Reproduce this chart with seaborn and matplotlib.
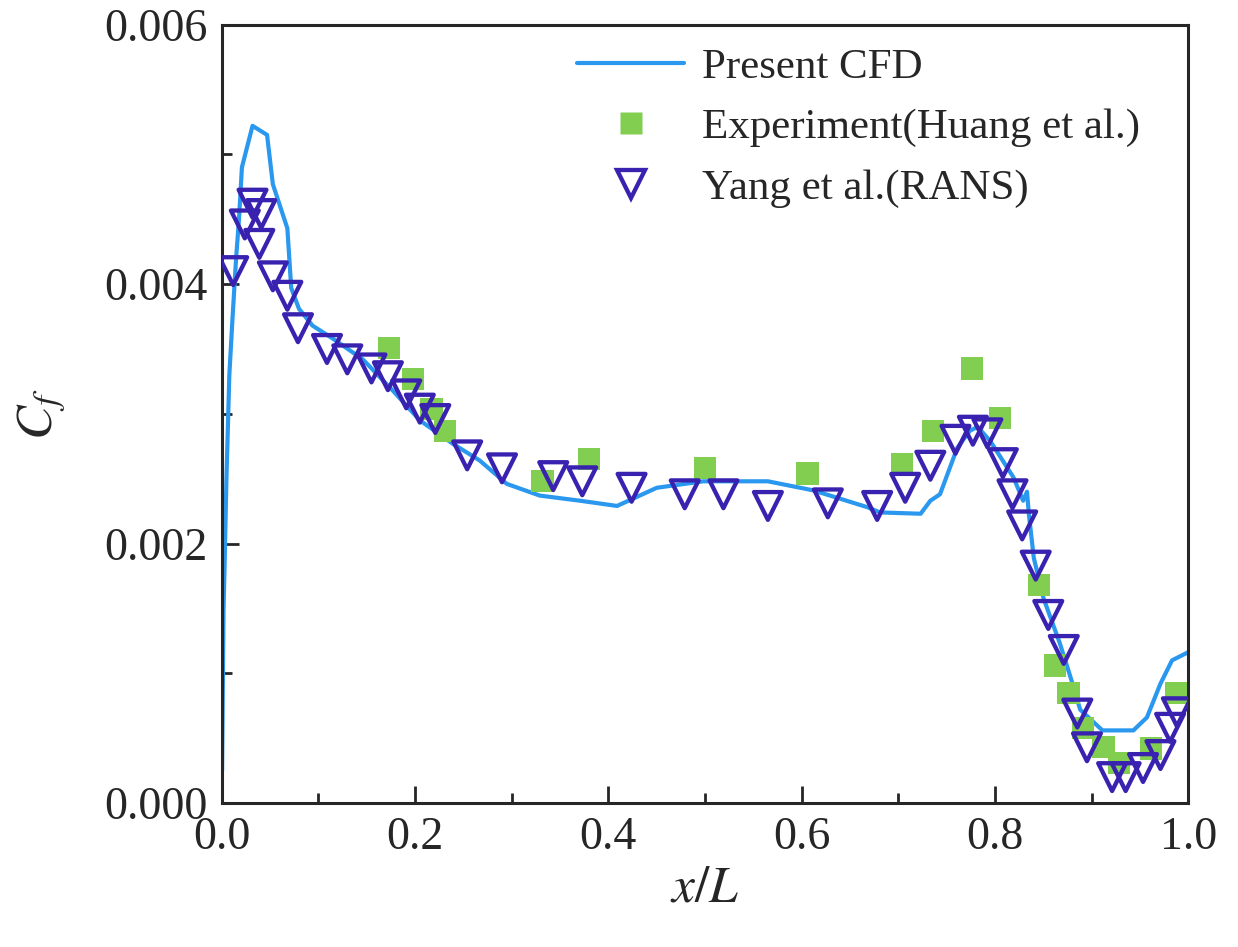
import numpy as np
import pandas as pd
import matplotlib
matplotlib.use("Agg")
import matplotlib.pyplot as plt
import seaborn as sns
from matplotlib.ticker import MultipleLocator, FormatStrFormatter
from matplotlib.lines import Line2D

# ---- data ----
cfd_x = [0.0005, 0.002, 0.003, 0.005, 0.008, 0.011, 0.015, 0.018, 0.021, 0.032, 0.047,
         0.053, 0.068, 0.072, 0.080, 0.094, 0.115, 0.146, 0.177, 0.205, 0.239, 0.267,
         0.295, 0.329, 0.371, 0.409, 0.450, 0.498, 0.565, 0.612, 0.668, 0.681, 0.723,
         0.733, 0.743, 0.761, 0.774, 0.782, 0.795, 0.819, 0.829, 0.833, 0.835, 0.840,
         0.850, 0.867, 0.878, 0.888, 0.911, 0.943, 0.957, 0.971, 0.983, 0.999]
cfd_y = [0.00025, 0.0015, 0.0018, 0.0025, 0.0033, 0.0037, 0.0042, 0.0045, 0.0049, 0.00522, 0.00515,
         0.00477, 0.00443, 0.00397, 0.00381, 0.00368, 0.00358, 0.00342, 0.00318, 0.00295, 0.00277, 0.00264,
         0.00246, 0.00237, 0.00233, 0.00229, 0.00243, 0.00248, 0.00248, 0.00241, 0.00228, 0.00224, 0.00223,
         0.00233, 0.00238, 0.00274, 0.00287, 0.00290, 0.00279, 0.00251, 0.00233, 0.00240, 0.00222, 0.00189,
         0.00158, 0.00123, 0.00097, 0.00072, 0.00056, 0.00056, 0.00066, 0.00092, 0.00110, 0.00116]

exp_x = [0.173, 0.198, 0.217, 0.231, 0.332, 0.380, 0.500, 0.606, 0.704, 0.736, 0.776,
         0.805, 0.845, 0.862, 0.876, 0.891, 0.912, 0.928, 0.961, 0.987]
exp_y = [0.00351, 0.00327, 0.00304, 0.00287, 0.00248, 0.00265, 0.00258, 0.00254, 0.00261, 0.00287, 0.00335,
         0.00297, 0.00168, 0.00106, 0.00085, 0.00058, 0.00043, 0.00031, 0.00042, 0.00085]

rans_x = [0.012, 0.024, 0.032, 0.041, 0.039, 0.053, 0.068, 0.079, 0.109, 0.130, 0.155,
          0.172, 0.191, 0.205, 0.221, 0.254, 0.290, 0.343, 0.373, 0.424, 0.479, 0.519,
          0.565, 0.627, 0.678, 0.707, 0.733, 0.759, 0.777, 0.792, 0.808, 0.818, 0.828,
          0.842, 0.855, 0.871, 0.885, 0.895, 0.921, 0.935, 0.953, 0.971, 0.981, 0.988]
rans_y = [0.00410, 0.00446, 0.00462, 0.00454, 0.00431, 0.00406, 0.00391, 0.00366, 0.00350, 0.00342, 0.00335,
          0.00329, 0.00315, 0.00304, 0.00296, 0.00268, 0.00258, 0.00252, 0.00248, 0.00243, 0.00238, 0.00238,
          0.00229, 0.00231, 0.00229, 0.00243, 0.00260, 0.00280, 0.00287, 0.00285, 0.00262, 0.00238, 0.00214,
          0.00183, 0.00145, 0.00118, 0.00069, 0.00043, 0.00020, 0.00020, 0.00027, 0.00037, 0.00058, 0.00070]

labels = ["Present CFD", "Experiment(Huang et al.)", "Yang et al.(RANS)"]
x_ticks = [0.0, 0.2, 0.4, 0.6, 0.8, 1.0]
y_ticks = [0.000, 0.002, 0.004, 0.006]

c_line = "#2A98EE"
c_exp = "#82CE50"
c_rans = "#3A22B0"

sns.set_style("ticks")
plt.rcParams["font.family"] = ["Liberation Serif", "DejaVu Serif"]
plt.rcParams["mathtext.fontset"] = "stix"

fig = plt.figure(figsize=(12.38, 9.47), dpi=100)
ax = fig.add_axes([0.179, 0.152, 0.781, 0.822])

cfd = pd.DataFrame({"x": cfd_x, "y": cfd_y})
exp = pd.DataFrame({"x": exp_x, "y": exp_y})
rans = pd.DataFrame({"x": rans_x, "y": rans_y})

sns.lineplot(data=cfd, x="x", y="y", ax=ax, color=c_line, lw=3, sort=False, zorder=2)
sns.scatterplot(data=exp, x="x", y="y", ax=ax, marker="s", s=256, color=c_exp,
                edgecolor="none", zorder=3)
sns.scatterplot(data=rans, x="x", y="y", ax=ax, marker="v", s=400, fc="none",
                ec=c_rans, linewidth=3.1, zorder=4)

ax.set_xlim(0, 1.0)
ax.set_ylim(0, 0.006)
ax.set_xticks(x_ticks)
ax.set_yticks(y_ticks)
ax.xaxis.set_major_formatter(FormatStrFormatter("%.1f"))
ax.yaxis.set_major_formatter(FormatStrFormatter("%.3f"))
ax.xaxis.set_minor_locator(MultipleLocator(0.1))
ax.yaxis.set_minor_locator(MultipleLocator(0.001))
ax.tick_params(which="both", direction="in", top=False, right=False, width=2)
ax.tick_params(which="major", length=12, labelsize=33, pad=10)
ax.tick_params(which="minor", length=7)
for s in ax.spines.values():
    s.set_linewidth(2.2)
    s.set_visible(True)

ax.set_xlabel(r"$x/L$", fontsize=37, labelpad=5)
ax.set_ylabel(r"$C_f$", fontsize=37, labelpad=26)

handles = [
    Line2D([], [], color=c_line, lw=3),
    Line2D([], [], color=c_exp, marker="s", ls="none", markersize=16, markeredgecolor="none"),
    Line2D([], [], color=c_rans, marker="v", ls="none", markersize=20, mfc="none", mew=3.1),
]
ax.legend(handles, labels, loc="upper left", bbox_to_anchor=(0.452, 0.968),
          bbox_transform=fig.transFigure, frameon=False, fontsize=31,
          handlelength=2.5, handletextpad=0.4, labelspacing=0.5, borderaxespad=0)

fig.savefig("out.png", dpi=100)
